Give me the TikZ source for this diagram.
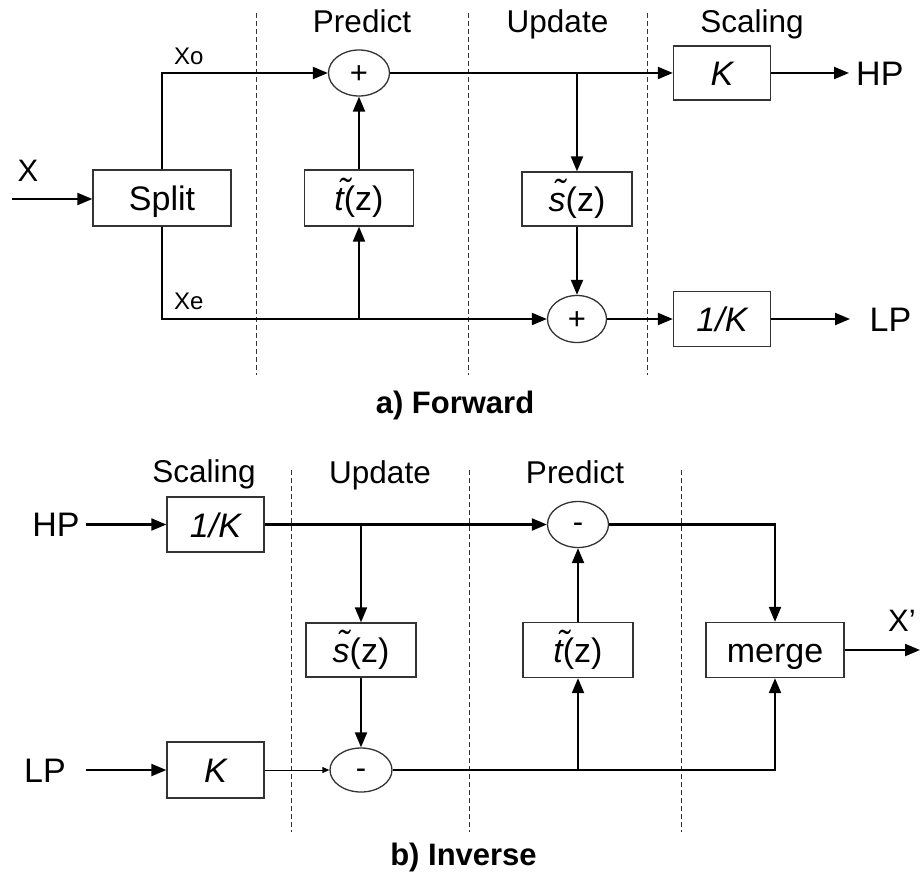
\documentclass[tikz,border=0pt]{standalone}
\usepackage{fontspec}
\setmainfont{Liberation Sans}
\usetikzlibrary{shapes.geometric,arrows.meta}
\newcommand{\tildeit}[2]{\leavevmode\hbox{\ooalign{\itshape #1\cr\hidewidth\kern#2\raisebox{0.25em}{\itshape\char"02DC}\hidewidth\cr}}}
\begin{document}
\begin{tikzpicture}[x=1pt,y=-1pt,
  conn/.style={line width=2.1pt, draw=black},
  arr/.style={conn, -{Triangle[length=15pt,width=12pt]}},
  thinarr/.style={line width=0.9pt, draw=black, -{Triangle[length=7pt,width=6pt]}},
  blk/.style={draw=black!80, line width=1.3pt, rectangle, inner sep=0pt, text height=25.8pt, text depth=0pt, font=\fontsize{34}{40}\selectfont},
  opnode/.style={draw=black!80, line width=1.3pt, ellipse, inner sep=0pt, text height=21.5pt, text depth=0pt, font=\fontsize{31}{36}\selectfont},
  minusnode/.style={opnode, text height=16pt},
  ttl/.style={font=\fontsize{31.5}{36}\selectfont, anchor=base, inner sep=0pt},
  lbl/.style={font=\fontsize{34}{40}\selectfont, inner sep=0pt},
  smalllbl/.style={font=\fontsize{24}{28}\selectfont, inner sep=0pt},
  divider/.style={dash pattern=on 5pt off 3pt, line width=0.9pt, draw=black!80},
  capt/.style={font=\fontsize{31}{36}\selectfont\bfseries, anchor=base, inner sep=0pt}
]
\fill[white] (0,0) rectangle (920,873);
\useasboundingbox (0,0) rectangle (920,873);

% ---------- a) Forward ----------
\draw[divider] (256,13) -- (256,375);
\draw[divider] (468,13) -- (468,375);
\draw[divider] (647,13) -- (647,375);

\node[ttl] (tpred) at (362,32) {Predict};
\node[ttl] (tupd) at (557.5,32) {Update};
\node[ttl] (tscal) at (752,32) {Scaling};

\node[blk, minimum width=138pt, minimum height=56pt] (split) at (162,198) {Split};
\node[blk, minimum width=109pt, minimum height=56pt] (tz1) at (359,198) {\tildeit{t}{0.3em}(z)};
\node[opnode, minimum width=61pt, minimum height=46pt] (p1) at (359,73) {+};
\node[blk, minimum width=110pt, minimum height=54pt] (sz1) at (577,199) {\tildeit{s}{0.12em}(z)};
\node[opnode, minimum width=59pt, minimum height=47pt] (p2) at (577,319) {+};
\node[blk, minimum width=97pt, minimum height=54pt] (k1) at (722,73) {\itshape K};
\node[blk, minimum width=97pt, minimum height=55pt] (ik1) at (722,319) {\itshape 1/K};

\node[lbl, font=\fontsize{31}{36}\selectfont] (xlab) at (28,171) {X};
\node[smalllbl, anchor=west] (xolab) at (174,56) {Xo};
\node[smalllbl, anchor=west] (xelab) at (174,301) {Xe};
\node[lbl, anchor=west] (hplab) at (856,74) {HP};
\node[lbl, anchor=west] (lplab) at (869.5,319.5) {LP};

\coordinate (xin) at (12,199);
\coordinate (hpend) at (849,73);
\coordinate (lpend) at (850,319);
\coordinate (b1) at (tz1 |- p2);
\coordinate (b2) at (sz1 |- p1);

\draw[arr] (xin) -- (split.west |- xin);
\draw[arr] (split.north) |- (p1.west);
\draw[arr] (split.south) |- (p2.west);
\draw[arr] (b1) -- (tz1.south);
\draw[arr] (tz1.north) -- (p1.south);
\draw[arr] (p1.east) -- (k1.west);
\draw[arr] (b2) -- (sz1.north);
\draw[arr] (sz1.south) -- (p2.north);
\draw[arr] (p2.east) -- (ik1.west);
\draw[arr] (k1.east) -- (hpend);
\draw[arr] (ik1.east) -- (lpend);

\node[capt] (capa) at (455,413) {a) Forward};

% ---------- b) Inverse ----------
\draw[divider] (291,470) -- (291,832);
\draw[divider] (469,470) -- (469,832);
\draw[divider] (681,470) -- (681,832);

\node[ttl] (bscal) at (204,482) {Scaling};
\node[ttl] (bupd) at (380,483) {Update};
\node[ttl] (bpred) at (575,483) {Predict};

\node[blk, minimum width=97pt, minimum height=55pt] (ik2) at (215.5,524.5) {\itshape 1/K};
\node[blk, minimum width=97pt, minimum height=56pt] (k2) at (215.5,770) {\itshape K};
\node[blk, minimum width=110pt, minimum height=54pt] (sz2) at (361,650) {\tildeit{s}{0.12em}(z)};
\node[minusnode, minimum width=62pt, minimum height=44pt] (m2) at (361,770) {-};
\node[blk, minimum width=110pt, minimum height=55pt] (tz2) at (578,650) {\tildeit{t}{0.3em}(z)};
\node[minusnode, minimum width=61pt, minimum height=46pt] (m1) at (578,524.5) {-};
\node[blk, minimum width=138pt, minimum height=55pt] (merge) at (775,650) {merge};

\node[lbl] (hpin) at (56,524.5) {HP};
\node[lbl] (lpin) at (45,771) {LP};
\node[lbl, font=\fontsize{31}{36}\selectfont, anchor=west] (xout) at (888,621) {X’};

\coordinate (hpstart) at (86,524.5);
\coordinate (lpstart) at (86,770);
\coordinate (xend) at (920,650);
\coordinate (b3) at (sz2 |- ik2);
\coordinate (b4) at (tz2 |- m2);

\draw[arr] (hpstart) -- (ik2.west);
\draw[arr] (lpstart) -- (k2.west);
\draw[arr] (ik2.east) -- (m1.west);
\draw[arr] (b3) -- (sz2.north);
\draw[arr] (sz2.south) -- (m2.north);
\draw[thinarr] (k2.east) -- (m2.west);
\draw[arr] (m2.east) -| (merge.south);
\draw[arr] (b4) -- (tz2.south);
\draw[arr] (tz2.north) -- (m1.south);
\draw[arr] (m1.east) -| (merge.north);
\draw[arr] (merge.east) -- (xend);

\node[capt] (captb) at (463.5,865) {b) Inverse};
\end{tikzpicture}
\end{document}
